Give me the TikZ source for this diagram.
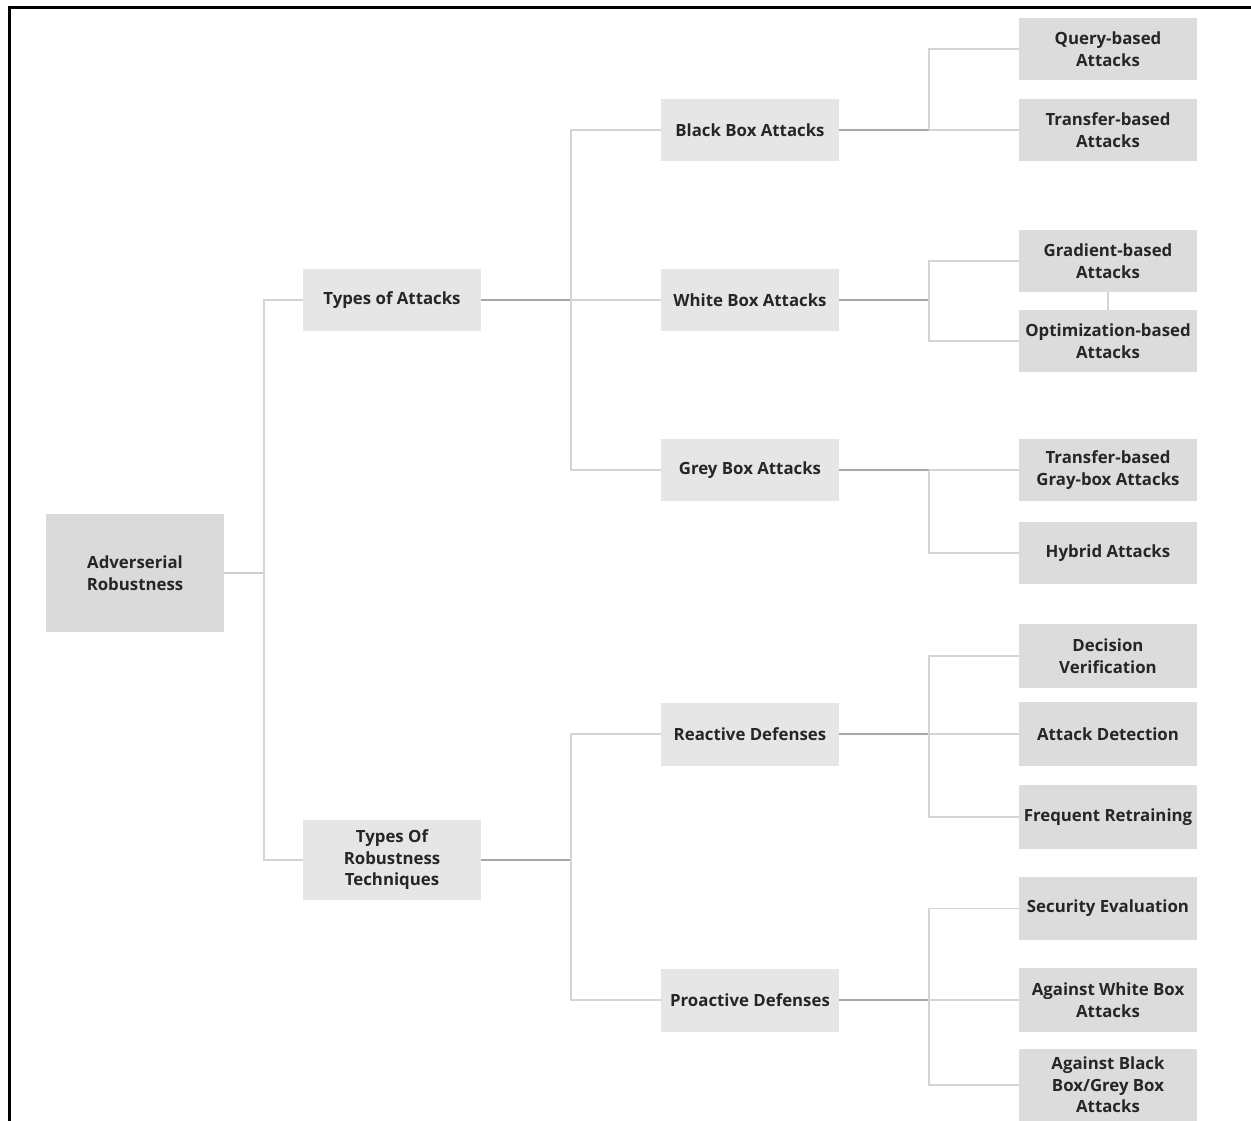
\documentclass[tikz,border=0pt]{standalone}
\usepackage{fontspec}
\setmainfont{Open Sans}
\definecolor{midfill}{HTML}{E6E6E6}
\definecolor{leaffill}{HTML}{DCDCDC}
\definecolor{rootfill}{HTML}{DADADA}
\definecolor{txt}{HTML}{262626}
\definecolor{lightln}{HTML}{D4D4D4}
\definecolor{darkln}{HTML}{A6A6A6}
\tikzset{
  basebox/.style={inner sep=0pt, align=center, text=txt, minimum width=178pt,
    font=\fontsize{16.8}{21.5}\selectfont\bfseries},
  midbox/.style={basebox, fill=midfill, minimum height=62pt},
  leafbox/.style={basebox, fill=leaffill, minimum height=62pt},
  rootbox/.style={basebox, fill=rootfill, minimum height=118pt},
  lightedge/.style={draw=lightln, line width=1.6pt},
  darkedge/.style={draw=darkln, line width=1.6pt},
  frameline/.style={draw=black, line width=3pt}
}
\begin{document}
\begin{tikzpicture}[x=1pt,y=-1pt]
\useasboundingbox (0,0) rectangle (1251,1120);
\draw[frameline] (9,1122) -- (9,7) -- (1253,7);

% root
\node[rootbox] (root) at (135,573) {Adverserial\\Robustness};

% level 1
\node[midbox] (toa) at (392,300) {Types of Attacks};
\node[midbox, minimum height=80pt] (tort) at (392,860) {Types Of\\Robustness\\Techniques};

% level 2
\node[midbox] (bba) at (750,130) {Black Box Attacks};
\node[midbox] (wba) at (750,300) {White Box Attacks};
\node[midbox] (gba) at (750,470) {Grey Box Attacks};
\node[midbox, minimum height=63pt] (rd) at (750,734) {Reactive Defenses};
\node[midbox, minimum height=63pt] (pd) at (750,1000) {Proactive Defenses};

% leaves
\node[leafbox] (qb) at (1108,49) {Query-based\\Attacks};
\node[leafbox] (tb) at (1108,130) {Transfer-based\\Attacks};
\node[leafbox] (gr) at (1108,261) {Gradient-based\\Attacks};
\node[leafbox] (ob) at (1108,341) {Optimization-based\\Attacks};
\node[leafbox] (tg) at (1108,470) {Transfer-based\\Gray-box Attacks};
\node[leafbox] (hy) at (1108,553) {Hybrid Attacks};
\node[leafbox, minimum height=64pt] (dv) at (1108,656) {Decision\\Verification};
\node[leafbox, minimum height=64pt] (ad) at (1108,734) {Attack Detection};
\node[leafbox, minimum height=64pt] (fr) at (1108,817) {Frequent Retraining};
\node[leafbox, minimum height=63pt] (se) at (1108,908.5) {Security Evaluation};
\node[leafbox, minimum height=64pt] (aw) at (1108,1000) {Against White Box\\Attacks};
\node[leafbox, minimum height=72pt] (ab) at (1108,1085) {Against Black\\Box/Grey Box\\Attacks};

% junctions
\coordinate (jR) at (264,573);
\coordinate (jA) at (571,300);
\coordinate (jT) at (571,860);
\coordinate (jB) at (929,130);
\coordinate (jW) at (929,300);
\coordinate (jG) at (929,470);
\coordinate (jRd) at (929,734);
\coordinate (jP) at (929,1000);

% connectors
\draw[darkedge, draw=lightln!85!darkln] (root.east) -- (jR);
\draw[lightedge] (jR) |- (toa.west);
\draw[lightedge] (jR) |- (tort.west);

\draw[darkedge] (toa.east) -- (jA);
\draw[lightedge] (jA) |- (bba.west);
\draw[lightedge] (jA) -- (wba.west);
\draw[lightedge] (jA) |- (gba.west);

\draw[darkedge] (tort.east) -- (jT);
\draw[lightedge] (jT) |- (rd.west);
\draw[lightedge] (jT) |- (pd.west);

\draw[darkedge] (bba.east) -- (jB);
\draw[lightedge] (jB) |- (qb.west);
\draw[lightedge] (jB) -- (tb.west);

\draw[darkedge] (wba.east) -- (jW);
\draw[lightedge] (jW) |- (gr.west);
\draw[lightedge] (jW) |- (ob.west);
\draw[lightedge] (gr.south) -- (ob.north);

\draw[darkedge] (gba.east) -- (jG);
\draw[lightedge] (jG) -- (tg.west);
\draw[lightedge] (jG) |- (hy.west);

\draw[darkedge] (rd.east) -- (jRd);
\draw[lightedge] (jRd) |- (dv.west);
\draw[lightedge] (jRd) -- (ad.west);
\draw[lightedge] (jRd) |- (fr.west);

\draw[darkedge] (pd.east) -- (jP);
\draw[lightedge] (jP) |- (se.west);
\draw[lightedge] (jP) -- (aw.west);
\draw[lightedge] (jP) |- (ab.west);
\end{tikzpicture}
\end{document}
